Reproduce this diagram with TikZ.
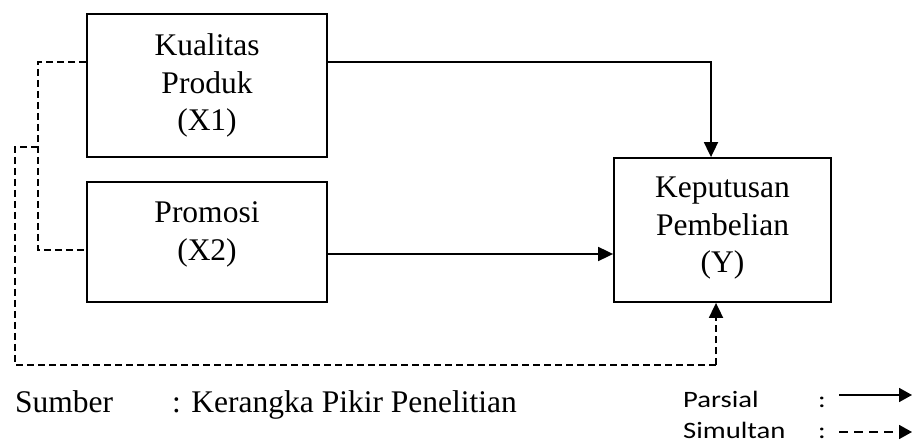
\documentclass[tikz,border=0pt]{standalone}
\usepackage{fontspec}
\setmainfont{Liberation Serif}
\newfontfamily\legendfont[FakeStretch=1.22]{Carlito}
\usetikzlibrary{arrows.meta,calc}

\tikzset{
  var/.style={draw, line width=1.8pt, inner sep=0pt, rectangle},
  txt/.style={align=center, inner sep=0pt, font=\fontsize{31.5}{37.5}\selectfont},
  par/.style={line width=1.8pt, -{Triangle[length=15pt,width=14pt]}},
  sim/.style={line width=1.8pt, dash pattern=on 7pt off 4pt},
  simarrow/.style={sim, -{Triangle[length=15pt,width=14pt]}},
  note/.style={anchor=base west, inner sep=0pt, font=\fontsize{31.5}{37.5}\selectfont},
  leg/.style={anchor=base west, inner sep=0pt, font=\legendfont\fontsize{23.5}{27}\selectfont},
  legline/.style={line width=1.8pt, -{Triangle[length=13pt,width=14pt]}},
}

\begin{document}
\begin{tikzpicture}[x=1pt, y=-1pt]
  \useasboundingbox (0,0) rectangle (913,446);

  % variable boxes
  \node[var, minimum width=240pt, minimum height=143pt] (x1) at (207,85.5) {};
  \node[var, minimum width=240pt, minimum height=120pt] (x2) at (207,242) {};
  \node[var, minimum width=217pt, minimum height=144pt] (y) at (722.5,230) {};

  \node[txt] at (x1.center) {Kualitas\\Produk\\(X1)};
  \node[txt] at ($(x2.center)+(0,-7.5)$) {Promosi\\(X2)};
  \node[txt] at ($(y.center)+(0,-1.5)$) {Keputusan\\Pembelian\\(Y)};

  % partial effects
  \coordinate (k1) at (711,62);
  \coordinate (k2) at (470,254);
  \draw[par] (x1.east |- k1) -- (k1) -- (k1 |- y.north);
  \draw[par] (x2.east |- k2) -- (y.west |- k2);

  % simultaneous effect
  \coordinate (d1) at (38,62);
  \coordinate (d2) at (38,250);
  \coordinate (j) at (38,147);
  \coordinate (c1) at (15,147);
  \coordinate (c2) at (716,365);
  \draw[sim] (x1.west |- d1) -- (d1) -- (d2) -- (x2.west |- d2);
  \draw[sim] (j) -- (c1) |- (c2);
  \draw[simarrow] (c2) -- (c2 |- y.south);

  % source note
  \node[note] (src) at (15,412) {Sumber};
  \node[note] (srct) at (172,412) {: Kerangka Pikir Penelitian};

  % legend
  \node[leg] (lp) at (683,407) {Parsial};
  \node[leg] (ls) at (683,438) {Simultan};
  \node[leg] (cp) at (818,407) {:};
  \node[leg] (cs) at (818,438) {:};
  \coordinate (lp1) at (839,395);
  \coordinate (lp2) at (912,395);
  \coordinate (ls1) at (839,432);
  \coordinate (ls2) at (912,432);
  \draw[legline] (lp1) -- (lp2);
  \draw[legline, dash pattern=on 9pt off 6pt] (ls1) -- (ls2);
\end{tikzpicture}
\end{document}
